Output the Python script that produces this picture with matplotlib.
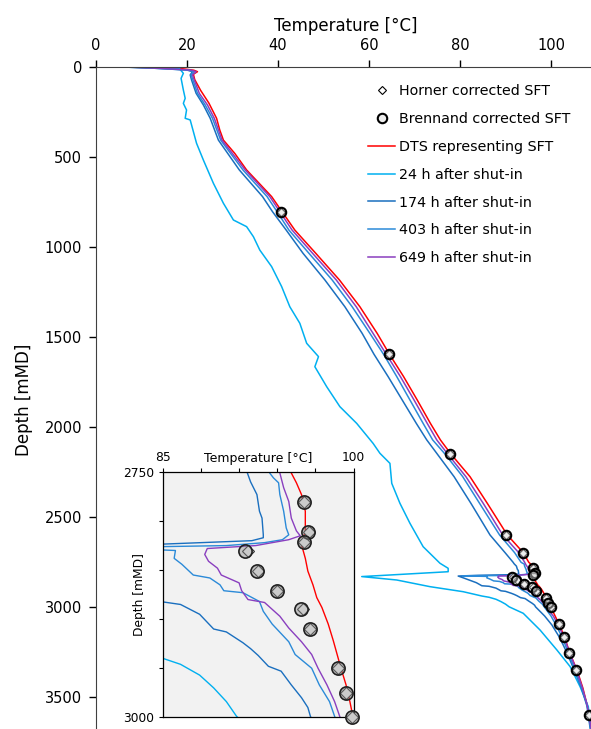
import numpy as np
import matplotlib
matplotlib.use('Agg')
import matplotlib.pyplot as plt

plt.rcParams['font.family'] = ['DejaVu Sans']

# ---- data (depth in mMD, temperature in degC) ----
sft_depth = [804, 1596, 2150, 2600, 2698, 2781, 2811, 2821, 2831, 2851, 2871,
             2890, 2910, 2950, 2975, 3000, 3097, 3168, 3254, 3350, 3602]
horner_temp = [40.7, 64.3, 77.8, 90.1, 93.8, 96.1, 96.5, 96.1, 91.7, 92.5, 94.0,
               96.0, 96.6, 98.8, 99.4, 99.9, 101.7, 102.9, 104.0, 105.6, 108.4]
brennand_temp = [40.7, 64.3, 77.8, 90.1, 93.8, 96.1, 96.4, 96.1, 91.5, 92.4, 94.0,
                 95.9, 96.6, 98.8, 99.4, 99.9, 101.7, 102.9, 104.0, 105.6, 108.4]

dts_depth = [0, 3, 8, 18, 26, 40, 70, 130, 200, 285, 350, 406, 480, 572, 650, 720,
             804, 906, 1035, 1183, 1332, 1480, 1596, 1720, 1850, 1980, 2072, 2150,
             2276, 2424, 2600, 2698, 2751, 2761, 2773, 2790, 2810, 2824, 2838, 2851,
             2865, 2878, 2888, 2905, 2922, 2936, 2950, 2967, 2984, 3000, 3097, 3168,
             3254, 3350, 3450, 3550, 3602, 3690]
dts_temp = [5.0, 12.0, 18.5, 21.5, 22.3, 21.4, 21.7, 23.0, 24.8, 26.5, 27.2, 28.0,
            30.5, 33.1, 36.0, 38.6, 40.9, 43.7, 48.3, 53.5, 58.0, 61.8, 64.5, 67.6,
            70.6, 73.5, 75.7, 78.0, 82.2, 86.0, 90.4, 93.9, 95.1, 95.5, 95.9, 96.2,
            96.2, 95.9, 96.2, 96.4, 96.8, 97.1, 97.5, 98.0, 98.4, 98.7, 99.0, 99.4,
            99.7, 99.95, 101.8, 103.0, 104.1, 105.7, 107.0, 108.0, 108.5, 108.9]

h24_depth = [0, 2, 8, 35, 63, 128, 174, 202, 239, 285, 294, 424, 517, 646, 757, 850,
             887, 943, 1017, 1109, 1220, 1332, 1424, 1535, 1609, 1665, 1776, 1887,
             1980, 2091, 2146, 2202, 2313, 2424, 2535, 2665, 2757, 2785, 2804, 2831,
             2850, 2887, 2915, 2939, 2946, 2957, 2970, 2984, 2999, 3035, 3128, 3239,
             3331, 3443, 3554, 3690]
h24_temp = [4.8, 13.2, 18.3, 19.2, 18.7, 19.2, 19.6, 19.2, 19.9, 19.6, 20.7, 22.1,
            23.6, 25.8, 28.0, 30.2, 33.1, 34.6, 36.0, 38.6, 40.8, 42.6, 44.8, 46.3,
            48.9, 48.1, 50.7, 53.6, 57.3, 60.9, 62.4, 64.6, 65.0, 66.8, 69.0, 71.9,
            75.6, 77.4, 77.4, 58.4, 66.1, 73.4, 80.7, 84.8, 86.4, 87.9, 89.0, 90.0,
            90.8, 93.9, 97.6, 101.3, 104.2, 106.4, 108.2, 108.8]

h174_depth = [0, 7, 17, 26, 44, 72, 146, 211, 285, 406, 572, 720, 804, 906, 1035,
              1183, 1332, 1480, 1596, 1720, 1850, 1980, 2072, 2150, 2276, 2424, 2600,
              2698, 2751, 2760, 2773, 2790, 2797, 2814, 2817, 2820, 2822, 2824, 2828,
              2836, 2850, 2865, 2882, 2885, 2895, 2910, 2913, 2924, 2930, 2937, 2948,
              2953, 2967, 2980, 2990, 2999, 3050, 3100, 3170, 3254, 3350, 3450, 3550,
              3690]
h174_temp = [6.0, 13.0, 20.0, 21.2, 20.7, 21.0, 22.0, 23.6, 25.1, 26.9, 31.5, 36.6,
             38.8, 41.8, 45.5, 50.3, 54.7, 58.5, 61.1, 64.2, 67.3, 70.4, 72.7, 75.0,
             78.7, 82.4, 86.6, 89.9, 91.65, 91.9, 92.4, 92.6, 92.8, 92.9, 92.9, 92.0,
             88.0, 84.0, 79.6, 80.5, 82.0, 83.6, 84.8, 86.4, 87.9, 89.0, 90.0, 91.3,
             91.9, 92.5, 93.3, 94.3, 95.1, 95.9, 96.4, 96.6, 98.6, 100.2, 101.9,
             103.5, 105.1, 106.7, 107.9, 108.7]

h403_depth = [0, 7, 17, 26, 44, 72, 146, 211, 285, 406, 572, 720, 804, 906, 1035,
              1183, 1332, 1480, 1596, 1720, 1850, 1980, 2072, 2150, 2276, 2424, 2600,
              2698, 2751, 2756, 2761, 2773, 2790, 2807, 2814, 2819, 2822, 2825, 2827,
              2830, 2838, 2844, 2855, 2858, 2865, 2871, 2873, 2882, 2892, 2905, 2923,
              2936, 2950, 2967, 2984, 2999, 3050, 3100, 3170, 3254, 3350, 3450, 3550,
              3690]
h403_temp = [6.0, 13.0, 20.3, 21.5, 20.9, 21.3, 22.3, 24.0, 25.6, 27.4, 32.3, 37.6,
             39.8, 42.4, 46.8, 51.9, 56.3, 60.2, 63.2, 66.1, 69.0, 71.9, 74.0, 76.7,
             80.6, 84.3, 88.7, 92.0, 93.4, 93.7, 94.1, 94.2, 94.5, 94.7, 94.9, 94.4,
             93.0, 90.0, 80.5, 86.0, 85.9, 86.5, 87.4, 88.7, 89.5, 89.8, 91.3, 92.6,
             92.9, 93.6, 94.9, 95.4, 96.7, 97.3, 98.1, 98.5, 100.0, 101.1, 102.5,
             103.8, 105.3, 106.8, 108.0, 108.8]

h649_depth = [0, 7, 17, 26, 44, 72, 146, 211, 285, 406, 572, 720, 804, 906, 1035,
              1183, 1332, 1480, 1596, 1720, 1850, 1980, 2072, 2150, 2276, 2424, 2600,
              2698, 2751, 2766, 2780, 2797, 2810, 2815, 2819, 2822, 2825, 2828, 2834,
              2841, 2848, 2855, 2863, 2871, 2880, 2883, 2897, 2909, 2923, 2936, 2950,
              2967, 2984, 2999, 3050, 3100, 3170, 3254, 3350, 3450, 3550, 3690]
h649_temp = [7.3, 13.9, 20.9, 22.0, 21.2, 21.6, 22.7, 24.5, 26.0, 27.7, 32.8, 38.2,
             40.4, 43.1, 47.6, 52.8, 57.2, 60.9, 63.8, 66.9, 69.9, 72.8, 74.9, 77.3,
             81.3, 85.1, 89.4, 92.9, 94.2, 94.5, 94.9, 95.1, 95.5, 95.8, 94.9, 93.6,
             92.3, 88.5, 88.3, 88.6, 89.3, 89.6, 91.0, 91.2, 91.7, 93.0, 94.2, 94.9,
             95.9, 96.7, 97.2, 97.9, 98.5, 98.9, 100.5, 101.6, 102.9, 104.1, 105.6,
             106.9, 108.0, 108.9]

series = [
    ('DTS representing SFT', dts_depth, dts_temp, '#ff0000'),
    ('24 h after shut-in', h24_depth, h24_temp, '#00b0f0'),
    ('174 h after shut-in', h174_depth, h174_temp, '#1a6fbf'),
    ('403 h after shut-in', h403_depth, h403_temp, '#2b8ad8'),
    ('649 h after shut-in', h649_depth, h649_temp, '#8a3fbf'),
]

W, H = 591, 729
fig = plt.figure(figsize=(W / 100, H / 100), dpi=100)

# main axes (right/bottom run slightly off the canvas like the reference crop)
ax = fig.add_axes([96 / W, 1 - 733 / H, 500.5 / W, 666 / H])
for name, d, t, c in series:
    ax.plot(t, d, color=c, lw=1.1, label=name)
ax.plot(horner_temp, sft_depth, ls='none', marker='D', ms=4.5, mfc='white',
        mec='black', mew=0.8, label='Horner corrected SFT', zorder=5)
ax.plot(brennand_temp, sft_depth, ls='none', marker='o', ms=6.8,
        mfc=(0.85, 0.85, 0.85, 0.45), mec='black', mew=1.5,
        label='Brennand corrected SFT', zorder=6)

ax.set_xlim(0, 110)
ax.set_ylim(3700, 0)
ax.xaxis.tick_top()
ax.xaxis.set_label_position('top')
ax.set_xticks([0, 20, 40, 60, 80, 100])
ax.set_yticks(np.arange(0, 3501, 500))
ax.tick_params(direction='out', length=5, width=1, labelsize=10.5, pad=5)
ax.spines['right'].set_visible(False)
ax.spines['bottom'].set_visible(False)
for s in ('left', 'top'):
    ax.spines[s].set_color('#404040')
ax.set_xlabel('Temperature [°C]', fontsize=12, labelpad=5)
ax.set_ylabel('Depth [mMD]', fontsize=12, labelpad=8)

handles, labels = ax.get_legend_handles_labels()
order = [5, 6, 0, 1, 2, 3, 4]
leg = fig.legend([handles[i] for i in order], [labels[i] for i in order],
                 loc='upper left', bbox_to_anchor=(368 / W, 1 - 84 / H),
                 frameon=False, fontsize=10.3, handlelength=1.9,
                 handletextpad=0.25, labelspacing=0.97, borderpad=0,
                 borderaxespad=0)

# inset zoom
ax_in = fig.add_axes([162.7 / W, 1 - 717.3 / H, 191 / W, 245.3 / H])
ax_in.set_facecolor('#f2f2f2')
for name, d, t, c in series:
    ax_in.plot(t, d, color=c, lw=1.0)

# only the points inside the zoom window; drawn unclipped so edge points show whole
sd = np.array(sft_depth)
ht = np.array(horner_temp)
bt = np.array(brennand_temp)
inside = (sd >= 2750) & (sd <= 3000) & (bt >= 85) & (bt <= 100.5)
ax_in.plot(ht[inside], sd[inside], ls='none', marker='D', ms=6, mfc='white',
           mec='#303030', mew=0.8, zorder=5, clip_on=False)
ax_in.plot(bt[inside], sd[inside], ls='none', marker='o', ms=9.5,
           mfc=(0.55, 0.55, 0.55, 0.45), mec='#202020', mew=1.2, zorder=6,
           clip_on=False)
ax_in.set_xlim(85, 100)
ax_in.set_ylim(3000, 2750)
ax_in.xaxis.tick_top()
ax_in.set_xticks([85, 88, 91, 94, 97, 100])
ax_in.set_xticklabels(['85', '', '', '', '', '100'])
ax_in.set_yticks([2750, 2800, 2850, 2900, 2950, 3000])
ax_in.set_yticklabels(['2750', '', '', '', '', '3000'])
ax_in.tick_params(direction='out', length=3, width=0.8, labelsize=8.8, pad=3)
ax_in.text(0.5, 1.028, 'Temperature [°C]', transform=ax_in.transAxes,
           ha='center', va='bottom', fontsize=9)
ax_in.set_ylabel('Depth [mMD]', fontsize=8.8)
ax_in.yaxis.set_label_coords(-0.085, 0.5)
for s in ax_in.spines.values():
    s.set_color('black')
    s.set_linewidth(0.9)

fig.savefig('out.png', dpi=100)
